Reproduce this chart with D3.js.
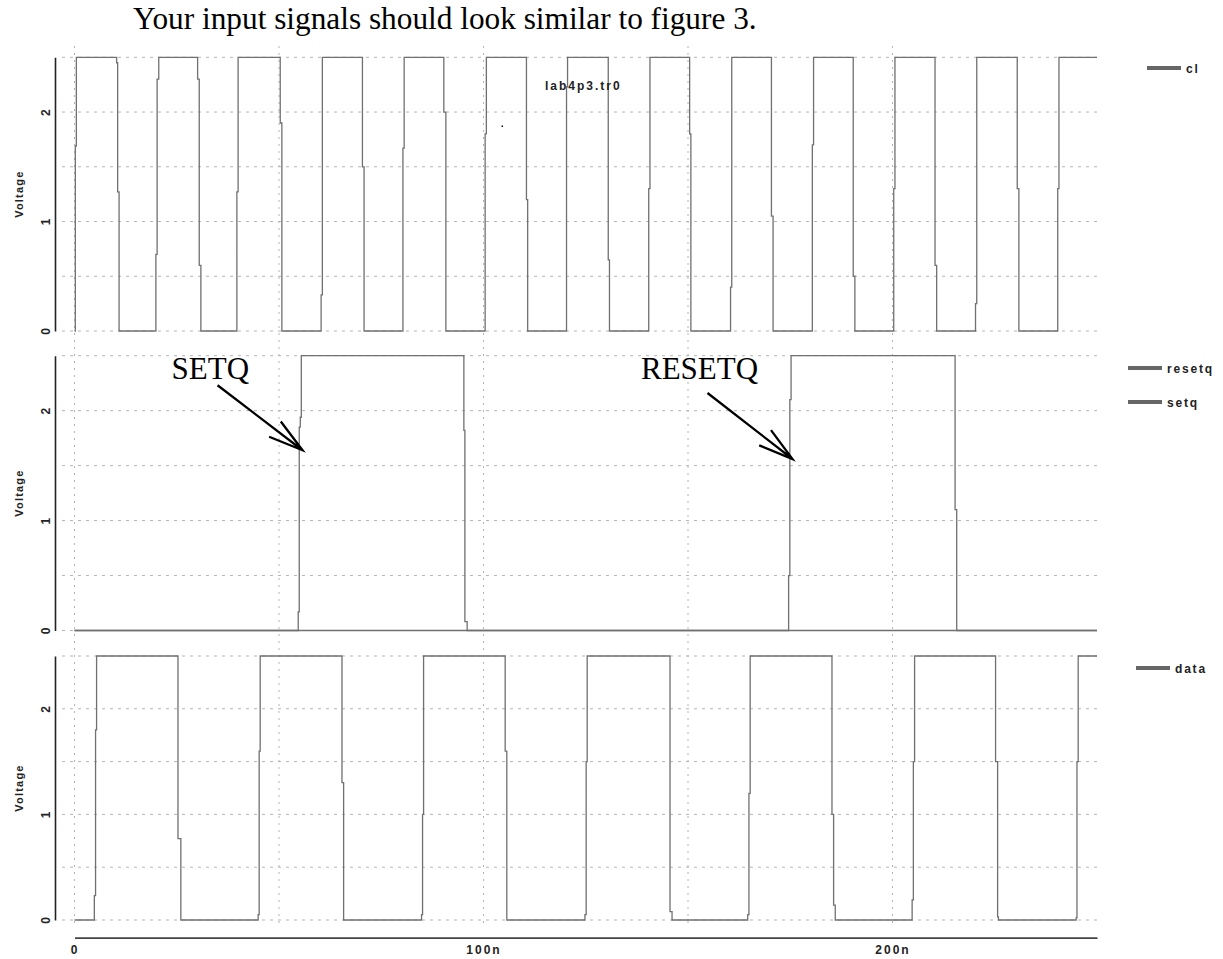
<!DOCTYPE html>
<html>
<head>
<meta charset="utf-8">
<script src="https://cdn.jsdelivr.net/npm/d3@7"></script>
<style>
  html, body { margin: 0; padding: 0; background: #fff; }
  svg { display: block; }
</style>
</head>
<body>
<svg id="chart" width="1223" height="959"></svg>
<script>
// ---------------- DATA ----------------
const titleText = "Your input signals should look similar to figure 3.";
const fileLabel = "lab4p3.tr0";
const yAxisTitle = "Voltage";

const timeTicks = [0, 100, 200];          // ns
const timeTickLabels = ["0", "100n", "200n"];
const voltTicks = [0, 1, 2];
const gridVolts = [0, 0.5, 1, 1.5, 2, 2.5];
const gridTimes = [0, 50, 100, 150, 200];
const timeDomain = [0, 250];
const voltDomain = [0, 2.5];

// waveform samples: [time ns, volts]; value holds until next sample
const clSamples = [
  [0, 0], [0.2, 1.69], [0.45, 2.5],
  [10.3, 2.45], [10.55, 1.27], [10.9, 0],
  [19.9, 0.7], [20.2, 2.3], [20.6, 2.5],
  [30.1, 2.3], [30.5, 0.6], [30.9, 0],
  [39.7, 1.27], [40.0, 2.5],
  [50.3, 1.9], [50.7, 0],
  [60.3, 0.33], [60.6, 2.5],
  [70.4, 1.5], [70.8, 0],
  [80.3, 1.67], [80.6, 2.5],
  [90.3, 2.0], [90.8, 0],
  [100.4, 1.8], [100.7, 2.5],
  [110.5, 1.2], [110.8, 0],
  [120.3, 2.23], [120.55, 2.5],
  [130.5, 0.65], [130.8, 0],
  [140.4, 1.3], [140.7, 2.5],
  [150.4, 1.8], [150.7, 0],
  [160.4, 0.4], [160.7, 2.5],
  [170.4, 1.05], [170.8, 0],
  [180.4, 1.7], [180.7, 2.5],
  [190.4, 0.5], [190.8, 0],
  [200.3, 1.3], [200.6, 2.5],
  [210.4, 0.6], [210.8, 0],
  [220.3, 0.25], [220.6, 2.5],
  [230.5, 1.3], [230.9, 0],
  [240.4, 1.3], [240.7, 2.5],
  [250, 2.5]
];
const resetqSamples = [
  [0, 0], [174.6, 0.5], [174.9, 2.1], [175.2, 2.5],
  [215.3, 1.1], [215.7, 0], [250, 0]
];
const setqSamples = [
  [0, 0], [54.7, 0.17], [54.95, 1.85], [55.2, 1.94], [55.45, 2.5],
  [95.2, 1.82], [95.45, 0.08], [96.0, 0], [250, 0]
];
const dataSamples = [
  [0, 0], [4.85, 0.23], [5.15, 1.8], [5.4, 2.5],
  [25.3, 0.77], [26.0, 0],
  [44.9, 0.05], [45.15, 1.6], [45.4, 2.5],
  [65.4, 1.3], [65.8, 0],
  [84.85, 0.05], [85.1, 1.0], [85.35, 2.5],
  [105.3, 1.6], [105.7, 0],
  [124.8, 0.05], [125.1, 1.5], [125.35, 2.5],
  [145.6, 0.08], [146.1, 0],
  [164.6, 0.05], [164.9, 1.2], [165.2, 2.5],
  [185.2, 1.0], [185.6, 0.14], [186.0, 0],
  [204.8, 0.19], [205.1, 1.5], [205.4, 2.5],
  [225.2, 1.5], [225.7, 0.03], [225.9, 0],
  [244.9, 0.02], [245.1, 1.5], [245.4, 2.5],
  [250, 2.5]
];

const panelSeries = [
  [{ name: "cl", values: clSamples }],
  [{ name: "resetq", values: resetqSamples }, { name: "setq", values: setqSamples }],
  [{ name: "data", values: dataSamples }]
];

// annotations: label + arrow tip (time ns, volts) in the middle panel
const annotations = [
  { label: "SETQ", t: 55.75, v: 1.64 },
  { label: "RESETQ", t: 175.55, v: 1.56 }
];
// stray dot in the top panel (time ns, volts)
const strayDot = [[104.6, 1.87]];

// ---------------- LAYOUT ----------------
const svg = d3.select("#chart");
const plotX = [74.5, 1097];
const panelBox = [
  { top: 57.3, bottom: 331 },
  { top: 355.7, bottom: 630.5 },
  { top: 656, bottom: 920 }
];
const gridX = [62, 1102];
const vGridY = [46, 926];
const yAxisX = 55;
const xAxisY = 937.7;
const legendLayout = [
  [{ x: 1147, y: 68 }],
  [{ x: 1128, y: 368 }, { x: 1128, y: 402 }],
  [{ x: 1136, y: 668 }]
];
const annotLayout = [
  { tail: [-85, -65], text: [-131, -71] },
  { tail: [-85, -66], text: [-151.5, -80] }
];

const sansFont = "'Liberation Sans', Arial, sans-serif";
const serifFont = "'Liberation Serif', 'Times New Roman', serif";
const signalColor = "#707070";
const gridColor = "#b4b4b4";

const x = d3.scaleLinear().domain(timeDomain).range(plotX);
const yScales = panelBox.map(b => d3.scaleLinear().domain(voltDomain).range([b.bottom, b.top]));

// title
svg.append("text")
  .attr("x", 133).attr("y", 29)
  .attr("font-family", serifFont).attr("font-size", 31.3)
  .attr("fill", "#000")
  .text(titleText);

// vertical grid lines (continuous across panels)
svg.append("g").selectAll("line").data(gridTimes).join("line")
  .attr("x1", d => x(d)).attr("x2", d => x(d))
  .attr("y1", vGridY[0]).attr("y2", vGridY[1])
  .attr("stroke", gridColor).attr("stroke-width", 1)
  .attr("stroke-dasharray", "2,5");

panelBox.forEach((b, i) => {
  const y = yScales[i];
  const g = svg.append("g");

  // horizontal grid
  g.append("g").selectAll("line").data(gridVolts).join("line")
    .attr("x1", gridX[0]).attr("x2", gridX[1])
    .attr("y1", d => y(d)).attr("y2", d => y(d))
    .attr("stroke", gridColor).attr("stroke-width", 1)
    .attr("stroke-dasharray", "3,5");

  // y axis
  const ax = g.append("g")
    .attr("transform", `translate(${yAxisX},0)`)
    .call(d3.axisLeft(y).tickValues(voltTicks).tickSize(0).tickSizeOuter(0).tickFormat(d3.format("d")));
  ax.select(".domain").attr("stroke", "#222").attr("stroke-width", 1.6);
  ax.selectAll(".tick text")
    .attr("x", null).attr("dy", null)
    .attr("transform", "translate(-5,0) rotate(-90)")
    .attr("text-anchor", "middle")
    .attr("font-family", sansFont).attr("font-size", 12).attr("font-weight", "bold")
    .attr("fill", "#222");

  // y axis title
  const cy = (b.top + b.bottom) / 2;
  g.append("text")
    .attr("transform", `translate(23,${cy}) rotate(-90)`)
    .attr("text-anchor", "middle")
    .attr("font-family", sansFont).attr("font-size", 11).attr("font-weight", "bold")
    .attr("letter-spacing", "1.2px")
    .attr("fill", "#222")
    .text(yAxisTitle);

  // signals
  const line = d3.line().x(d => x(d[0])).y(d => y(d[1])).curve(d3.curveStepAfter);
  g.append("g").selectAll("path").data(panelSeries[i]).join("path")
    .attr("d", d => line(d.values))
    .attr("fill", "none")
    .attr("stroke", signalColor).attr("stroke-width", 1.3);

  // legend
  const lg = g.append("g").selectAll("g").data(panelSeries[i]).join("g")
    .attr("transform", (d, j) => `translate(${legendLayout[i][j].x},${legendLayout[i][j].y})`);
  lg.append("line").attr("x1", 0).attr("x2", 34).attr("y1", 0).attr("y2", 0)
    .attr("stroke", "#666").attr("stroke-width", 4);
  lg.append("text").attr("x", 39).attr("y", 4.5)
    .attr("font-family", sansFont).attr("font-size", 12).attr("font-weight", "bold")
    .attr("letter-spacing", "1.8px").attr("fill", "#222")
    .text(d => d.name);
});

// file label
svg.append("text")
  .attr("x", 545).attr("y", 90)
  .attr("font-family", sansFont).attr("font-size", 12).attr("font-weight", "bold")
  .attr("letter-spacing", "2px").attr("fill", "#222")
  .text(fileLabel);

// stray dot
svg.append("g").selectAll("rect").data(strayDot).join("rect")
  .attr("x", d => x(d[0]) - 0.75).attr("y", d => yScales[0](d[1]) - 0.75)
  .attr("width", 1.5).attr("height", 1.5).attr("fill", "#000");

// x axis
const xa = svg.append("g")
  .attr("transform", `translate(0,${xAxisY})`)
  .call(d3.axisBottom(x).tickValues(timeTicks).tickSize(0).tickSizeOuter(0).tickPadding(8)
    .tickFormat((d, i) => timeTickLabels[i]));
xa.select(".domain").attr("stroke", "#444").attr("stroke-width", 1.8);
xa.selectAll(".tick text")
  .attr("font-family", sansFont).attr("font-size", 12).attr("font-weight", "bold")
  .attr("letter-spacing", "2px").attr("fill", "#222");

// annotations (middle panel)
const ym = yScales[1];
annotations.forEach((a, i) => {
  const tx = x(a.t), ty = ym(a.v);
  const L = annotLayout[i];
  const sx = tx + L.tail[0], sy = ty + L.tail[1];
  const ang = Math.atan2(ty - sy, tx - sx);
  const barb = 36, spread = 15.5 * Math.PI / 180;
  const b1 = [tx - barb * Math.cos(ang - spread), ty - barb * Math.sin(ang - spread)];
  const b2 = [tx - barb * Math.cos(ang + spread), ty - barb * Math.sin(ang + spread)];
  svg.append("path")
    .attr("d", `M${sx},${sy}L${tx},${ty}M${b1[0]},${b1[1]}L${tx},${ty}L${b2[0]},${b2[1]}`)
    .attr("fill", "none").attr("stroke", "#000").attr("stroke-width", 2.3);
  svg.append("text")
    .attr("x", tx + L.text[0]).attr("y", ty + L.text[1])
    .attr("font-family", serifFont).attr("font-size", 31).attr("fill", "#000")
    .text(a.label);
});
</script>
</body>
</html>
